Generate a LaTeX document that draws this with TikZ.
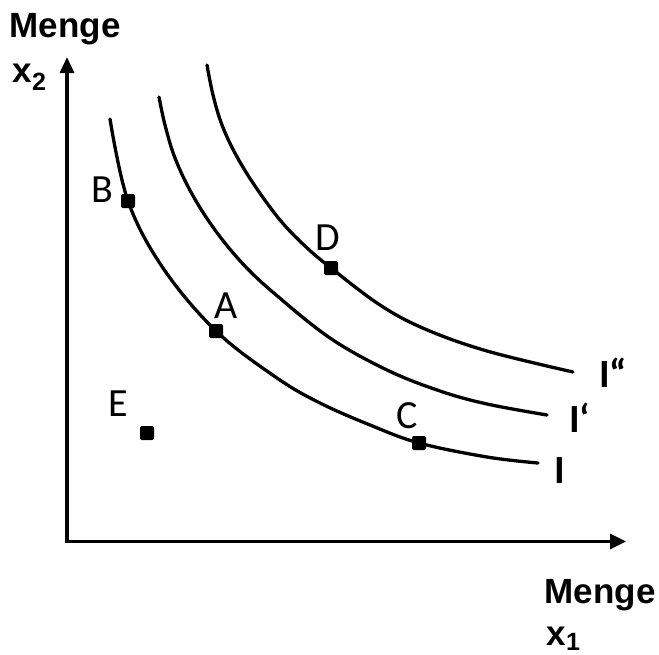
\documentclass[tikz,border=0pt]{standalone}
\usepackage{fontspec}
\setmainfont{Carlito}
\newfontfamily\axisfont{Liberation Sans}
\usetikzlibrary{arrows.meta}
\tikzset{
  curve/.style={line width=3.3pt, line cap=round},
  axisline/.style={line width=3.2pt, {Triangle[length=16pt,width=14pt]}-{Triangle[length=16pt,width=15pt]}},
  ptbox/.style={fill=black, draw=none, minimum size=14pt, inner sep=0pt, rounded corners=2pt},
  ptlabel/.style={font=\fontsize{40}{44}\selectfont, inner sep=0pt, anchor=base},
  curvelabel/.style={font=\fontsize{40}{44}\selectfont\bfseries, inner sep=0pt},
  axislabel/.style={font=\axisfont\bfseries\fontsize{35}{38}\selectfont, inner sep=0pt, anchor=base west}
}
\begin{document}
\begin{tikzpicture}[x=1pt,y=-1pt]
\useasboundingbox[fill=white] (0,0) rectangle (659,654);
% axes
\coordinate (Ytip) at (67,57);
\coordinate (O) at (67,541.5);
\coordinate (Xtip) at (626,541.5);
\draw[axisline] (Ytip) -- (O) -- (Xtip);
% indifference curves
\draw[curve] plot[smooth, tension=0.6] coordinates {(110,119) (128,201) (163,268) (216,331) (277,378) (320,403) (370,425) (419,443) (487,457) (538,463)};
\draw[curve] plot[smooth, tension=0.6] coordinates {(159,97) (165,125) (175,158) (192,194) (215,230) (243,264) (275,294) (330,338) (387,370) (440,391) (487,404) (547,415)};
\draw[curve] plot[smooth, tension=0.6] coordinates {(207,65) (213,95) (222,125) (236,155) (255,186) (280,220) (305,246) (331,268) (380,305) (425,329) (487,351) (573,372)};
% points
\node[ptbox] (B) at (128,201) {};
\node[ptbox] (A) at (216,331) {};
\node[ptbox] (D) at (331,268) {};
\node[ptbox] (C) at (419,443) {};
\node[ptbox] (E) at (147,433) {};
\node[ptlabel] (Blbl) at (102,202) {B};
\node[ptlabel] (Albl) at (226,318) {A};
\node[ptlabel] (Dlbl) at (327.5,250) {D};
\node[ptlabel] (Clbl) at (407,428) {C};
\node[ptlabel] (Elbl) at (118.5,416) {E};
% curve labels
\node[curvelabel, anchor=base] (I1) at (560,483) {I};
\node[curvelabel, anchor=base west] (I2) at (569,432) {I‘};
\node[curvelabel, anchor=base west] (I3) at (599,387) {I“};
% axis labels
\node[axislabel] (M2) at (9.5,37) {Menge};
\node[axislabel] (X2) at (12.5,82) {x\raisebox{-8pt}{\fontsize{25}{25}\selectfont 2}};
\node[axislabel] (M1) at (544.5,603) {Menge};
\node[axislabel] (X1) at (546.5,645) {x\raisebox{-5pt}{\fontsize{25}{25}\selectfont 1}};
\end{tikzpicture}
\end{document}
